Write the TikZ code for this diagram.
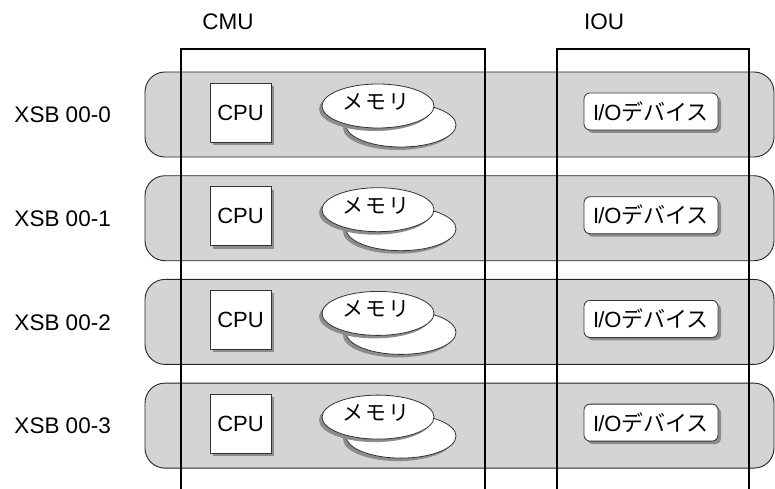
\documentclass[tikz,border=0pt]{standalone}
\usepackage{fontspec}
\setmainfont{Liberation Sans}
\newfontfamily\jp{Noto Sans CJK JP}
\usetikzlibrary{shapes.geometric}
\definecolor{bandgray}{RGB}{211,212,214}
\definecolor{shadowgray}{RGB}{140,140,140}
\begin{document}
\begin{tikzpicture}[x=1pt,y=-1pt,
  lbl/.style={font=\fontsize{22.5}{22.5}\selectfont, inner sep=0pt},
  band/.style={draw=black!85, line width=0.9pt, fill=bandgray, rounded corners=20pt},
  colline/.style={draw=black, line width=2pt},
  cpubox/.style={draw=black!80, line width=0.8pt, fill=white, minimum width=61pt, minimum height=59pt, inner sep=0pt, font=\fontsize{22}{22}\selectfont},
  iobox/.style={draw=black!80, line width=0.8pt, fill=white, rounded corners=6pt, minimum width=134pt, minimum height=37pt, inner sep=0pt, font=\fontsize{22}{22}\selectfont},
  memell/.style={ellipse, draw=black!80, line width=0.8pt, fill=white, inner sep=0pt},
  shad/.style={fill=shadowgray, draw=none}
]
\useasboundingbox (0,0) rectangle (775,489);
\fill[white] (0,0) rectangle (775,489);

\node[lbl] (cmu) at (228,22) {CMU};
\node[lbl] (iou) at (604,22) {IOU};

\foreach \i/\t in {0/72,1/175.7,2/279.4,3/383.1}{
  \draw[band] (145,\t) rectangle (774,\t+85);
  \node[lbl, anchor=east] (xsb\i) at (111,\t+43) {XSB 00-\i};
  % CPU
  \fill[shad] (213,\t+14) rectangle (274,\t+73);
  \node[cpubox] (cpu\i) at (240.5,\t+40.5) {CPU};
  % memory
  \fill[shad] (398,\t+56) ellipse [x radius=55, y radius=22];
  \node[memell, minimum width=110pt, minimum height=44pt] (memb\i) at (401,\t+53) {};
  \fill[shad] (375,\t+37) ellipse [x radius=56, y radius=22];
  \node[memell, minimum width=112pt, minimum height=44pt] (memf\i) at (378,\t+34) {};
  \node[font=\jp\fontsize{21}{21}\selectfont, inner sep=0pt] (memt\i) at (376,\t+30) {メ\hspace{2pt}モ\hspace{2pt}リ};
  % I/O
  \fill[shad, rounded corners=6pt] (587,\t+24) rectangle (721,\t+61);
  \node[iobox] (io\i) at (651,\t+39.5) {I\kern-1pt/O{\jp デバイス}};
}

\draw[colline] (181,489) -- (181,49) -- (485,49) -- (485,489);
\draw[colline] (557,489) -- (557,49) -- (749,49) -- (749,489);
\end{tikzpicture}
\end{document}
